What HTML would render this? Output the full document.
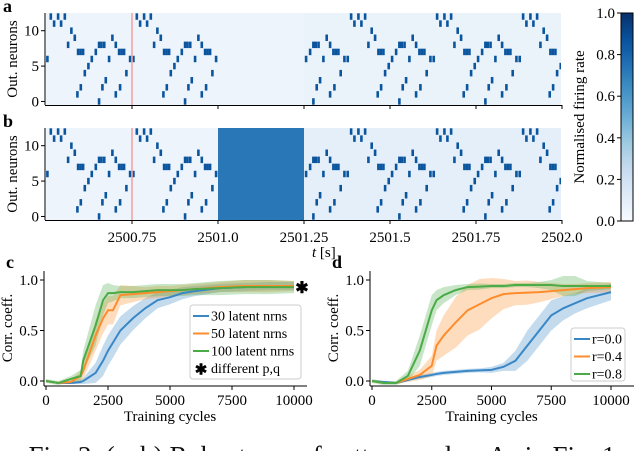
<!DOCTYPE html>
<html><head><meta charset="utf-8">
<style>
html,body{margin:0;padding:0;background:#fff;width:640px;height:451px;overflow:hidden}
svg{display:block;font-family:"Liberation Serif",serif}
</style></head>
<body>
<svg id="fig" width="640" height="451" viewBox="0 0 640 451">
<defs>
<linearGradient id="blues" x1="0" y1="1" x2="0" y2="0">
<stop offset="0" stop-color="#f7fbff"/><stop offset="0.125" stop-color="#deebf7"/><stop offset="0.25" stop-color="#c6dbef"/><stop offset="0.375" stop-color="#9ecae1"/><stop offset="0.5" stop-color="#6baed6"/><stop offset="0.625" stop-color="#4292c6"/><stop offset="0.75" stop-color="#2171b5"/><stop offset="0.875" stop-color="#08519c"/><stop offset="1" stop-color="#08306b"/>
</linearGradient>
<clipPath id="clipA"><rect x="46" y="13" width="515" height="92"/></clipPath>
<clipPath id="clipB"><rect x="46" y="128" width="515" height="92"/></clipPath>
</defs>
<g id="root"></g>
<text x="322" y="465" font-size="27" fill="#111" text-anchor="middle">Fig. 2: (a–b) Robustness of pattern replay. As in Fig. 1</text>
</svg>
<script>
// ---- raster data (one period of the replayed pattern) ----
const spikeRows  = [12,12,12,11,11,10,9,9,8,8,8,8,8,7,7,7,7,7,7,7,6,6,6,6,5,4,4,3,2,2,2,1,1,0];
const spikeTimes = [0.0137,0.0349,0.0544,0.0233,0.0436,0.0735,0.0834,0.1927,0.064,0.154,0.161,0.169,0.2026,0.093,0.1003,0.1076,0.1445,0.2122,0.2195,0.2267,0.1328,0.1831,0.2442,0.0038,0.123,0.1125,0.2334,0.1735,0.1009,0.1637,0.2151,0.091,0.2026,0.154];
const periodStartsLeft = [2500.5, 2500.75];
const periodStartsRight = [2501.123, 2501.373, 2501.623, 2501.873];
const rasterTicks = [2500.75, 2501.0, 2501.25, 2501.5, 2501.75, 2502.0];
const rasterTickLabels = ["2500.75","2501.0","2501.25","2501.5","2501.75","2502.0"];
const neuronTicks = [0,5,10];
const cbTicks = [0,0.2,0.4,0.6,0.8,1.0];

// ---- training curves ----
const cX = [0,500,1000,1400,1500,2000,2300,2500,2700,3000,3500,4000,4500,5000,5500,6000,7000,8000,9000,10000];
const c30  = [0,-0.02,-0.02,-0.01,0.0,0.08,0.2,0.3,0.38,0.5,0.62,0.72,0.8,0.83,0.87,0.89,0.92,0.93,0.94,0.94];
const c50  = [0,-0.02,-0.01,0.05,0.1,0.45,0.62,0.7,0.7,0.85,0.86,0.87,0.88,0.89,0.9,0.91,0.93,0.94,0.94,0.94];
const c100 = [0,-0.02,0.02,0.05,0.2,0.55,0.8,0.87,0.87,0.88,0.88,0.89,0.9,0.9,0.9,0.91,0.92,0.93,0.93,0.93];
const c30sd  = [0.01,0.01,0.01,0.02,0.03,0.1,0.15,0.15,0.15,0.14,0.12,0.1,0.08,0.07,0.06,0.05,0.04,0.04,0.04,0.04];
const c50sd  = [0.01,0.01,0.02,0.05,0.08,0.15,0.15,0.14,0.14,0.1,0.08,0.06,0.06,0.05,0.05,0.05,0.05,0.06,0.06,0.05];
const c100sd = [0.02,0.02,0.03,0.06,0.1,0.2,0.15,0.1,0.08,0.06,0.06,0.06,0.06,0.06,0.06,0.06,0.07,0.07,0.07,0.06];
const dX = [0,500,1000,1500,2000,2500,2700,3000,3500,4000,4500,5000,5500,6000,6500,7000,7500,8000,8500,9000,10000];
const d00 = [0,-0.01,-0.02,0.01,0.04,0.06,0.07,0.08,0.09,0.1,0.105,0.11,0.14,0.2,0.35,0.5,0.65,0.72,0.77,0.82,0.88];
const d04 = [0,-0.02,-0.02,0.02,0.06,0.15,0.35,0.45,0.58,0.7,0.76,0.82,0.86,0.87,0.875,0.88,0.89,0.9,0.91,0.92,0.93];
const d08 = [0,-0.02,-0.02,0.05,0.3,0.7,0.8,0.85,0.9,0.93,0.935,0.94,0.94,0.95,0.95,0.95,0.95,0.94,0.94,0.94,0.94];
const d00sd = [0.01,0.01,0.01,0.01,0.02,0.02,0.02,0.02,0.02,0.02,0.02,0.03,0.04,0.1,0.15,0.15,0.15,0.12,0.1,0.1,0.08];
const d04sd = [0.01,0.01,0.01,0.03,0.05,0.1,0.15,0.2,0.25,0.25,0.25,0.2,0.15,0.12,0.12,0.1,0.08,0.06,0.05,0.05,0.05];
const d08sd = [0.02,0.02,0.02,0.05,0.15,0.15,0.1,0.08,0.05,0.03,0.03,0.02,0.02,0.02,0.02,0.03,0.05,0.1,0.1,0.05,0.03];
const xTicks = [0,2500,5000,7500,10000];
const yTicks = [0,0.5,1.0];

const NS="http://www.w3.org/2000/svg";
const root=document.getElementById('root');
function mk(tag,attrs,parent,txt){const e=document.createElementNS(NS,tag);for(const k in attrs)e.setAttribute(k,attrs[k]);if(txt!==undefined)e.textContent=txt;(parent||root).appendChild(e);return e;}

const FS=15;
const tX = t => 46 + (t-2500.5)*344;
const rowY = (r,top) => top + 92 - (r+0.5)*(92/13);
function raster(top, clipId, panel, hasBlock, label){
  const g=mk('g',{'clip-path':'url(#'+clipId+')'});
  
  
  const bg=mk('rect',{x:46,y:top,width:515,height:92,fill:'#edf4fb'},g);
  
  
  const rb=mk('rect',{x:tX(2501.25),y:top,width:tX(2502)-tX(2501.25),height:92,fill:panel==='b'?'#e5eff9':'#eaf2fa'},g);
  
  
  const h=92/13;
  const draw=(starts,lo,hi)=>{
    starts.forEach(s=>{
      spikeTimes.forEach((off,i)=>{
        const t=s+off; if(t<lo||t>hi) return;
        const r=mk('rect',{x:tX(t)-1.2,y:rowY(spikeRows[i],top)-h/2+0.3,width:2.6,height:h-0.6,fill:'#0b559f'},g);
        
        
      });
    });
  };
  draw(periodStartsLeft,2500.5,2501.0);
  draw(periodStartsRight,2501.25,2502.0);
  if(hasBlock){
    const b=mk('rect',{x:tX(2501.0),y:top,width:tX(2501.25)-tX(2501.0),height:92,fill:'#2a77b8'},g);
    
    
  }
  const rl=mk('line',{x1:tX(2500.75),x2:tX(2500.75),y1:top,y2:top+92,stroke:'#f4a3a3','stroke-width':1.6});
  
  
  mk('line',{x1:45,x2:45,y1:top,y2:top+92,stroke:'#000','stroke-width':1});
  mk('line',{x1:45,x2:562,y1:top+92.5,y2:top+92.5,stroke:'#000','stroke-width':1});
  neuronTicks.forEach(v=>{
    const y=rowY(v,top);
    mk('line',{x1:41,x2:45,y1:y,y2:y,stroke:'#000'});
    const t=mk('text',{x:39,y:y+5,'font-size':FS,'text-anchor':'end'},root,String(v));
    
    
  });
  rasterTicks.forEach((v,i)=>{
    const x=tX(v);
    mk('line',{x1:x,x2:x,y1:top+92,y2:top+96,stroke:'#000'});
    if(panel==='b'){
      const t=mk('text',{x:x,y:top+114,'font-size':FS,'text-anchor':'middle'},root,rasterTickLabels[i]);
      
      
    }
  });
  const yl=mk('text',{transform:`translate(17,${top+46}) rotate(-90)`,'font-size':FS,'text-anchor':'middle'},root,'Out. neurons');
  
  
  const pl=mk('text',{x:3,y:top-1,'font-size':18,'font-weight':'bold'},root,label);
  
  
}
raster(13,'clipA','a',false,'a');
raster(128,'clipB','b',true,'b');
const tl=mk('text',{x:312,y:257,'font-size':FS},root,'');


mk('tspan',{'font-style':'italic'},tl,'t');
mk('tspan',{},tl,' [s]');

// colorbar
const cb=mk('rect',{x:621,y:13,width:12,height:208,fill:'url(#blues)',stroke:'#000','stroke-width':1});


cbTicks.forEach(v=>{
  const y=221-v*208;
  mk('line',{x1:617,x2:621,y1:y,y2:y,stroke:'#000'});
  const t=mk('text',{x:615,y:y+5,'font-size':FS,'text-anchor':'end'},root,v.toFixed(1));
  
  
});
const cbl=mk('text',{transform:'translate(584,117) rotate(-90)','font-size':FS,'text-anchor':'middle'},root,'Normalised firing rate');



// line panels
const COL={blue:'#3a87c6',orange:'#fd8d2c',green:'#4aab47'};
function linePanel(x0,x1,axR,label,panel,xs,series,legend,legBox){
  const sx=v=>x0+v/10000*(x1-x0), sy=v=>381-v*101;
  series.forEach(s=>{
    let up=xs.map((x,i)=>sx(x)+','+sy(s.y[i]+s.sd[i])).join(' ');
    let dn=xs.map((x,i)=>sx(x)+','+sy(s.y[i]-s.sd[i])).reverse().join(' ');
    const b=mk('polygon',{points:up+' '+dn,fill:s.c,'fill-opacity':0.3,stroke:'none'});
    
    
  });
  series.forEach(s=>{
    const l=mk('polyline',{points:xs.map((x,i)=>sx(x)+','+sy(s.y[i])).join(' '),fill:'none',stroke:s.c,'stroke-width':2});
    
    
  });
  mk('line',{x1:x0-2,x2:x0-2,y1:271,y2:386,stroke:'#000'});
  mk('line',{x1:x0-2,x2:axR,y1:386,y2:386,stroke:'#000'});
  xTicks.forEach(v=>{const x=sx(v);mk('line',{x1:x,x2:x,y1:386,y2:390,stroke:'#000'});
    const t=mk('text',{x:x,y:405,'font-size':FS,'text-anchor':'middle'},root,String(v));
    
    });
  yTicks.forEach(v=>{const y=sy(v);mk('line',{x1:x0-6,x2:x0-2,y1:y,y2:y,stroke:'#000'});
    const t=mk('text',{x:x0-8,y:y+5,'font-size':FS,'text-anchor':'end'},root,v.toFixed(1));
    
    });
  const xt=mk('text',{x:(x0+x1)/2,y:421,'font-size':FS,'text-anchor':'middle'},root,'Training cycles');
  
  
  const yt=mk('text',{transform:`translate(${x0-34},328) rotate(-90)`,'font-size':FS,'text-anchor':'middle'},root,'Corr. coeff.');
  
  
  const pl=mk('text',{x:x0-40,y:268,'font-size':18,'font-weight':'bold'},root,label);
  
  
  const lb=mk('rect',{x:legBox[0],y:legBox[1],width:legBox[2],height:legBox[3],rx:3,fill:'#fff','fill-opacity':0.85,stroke:'#ccc'});
  
  
  legend.forEach((e,i)=>{
    const y=legBox[1]+11+i*17.5;
    if(e.c){const l=mk('line',{x1:legBox[0]+3,x2:legBox[0]+19,y1:y,y2:y,stroke:e.c,'stroke-width':2});
      
      }
    else {const s=mk('text',{x:legBox[0]+11,y:y+6,'font-size':15,'text-anchor':'middle','font-weight':'bold'},root,'✱');
      
      }
    const t=mk('text',{x:legBox[0]+21,y:y+4.5,'font-size':14},root,e.t);
    
    
  });
}
linePanel(46,294,307,'c','c',cX,[
  {n:'30',y:c30,sd:c30sd,c:COL.blue},{n:'50',y:c50,sd:c50sd,c:COL.orange},{n:'100',y:c100,sd:c100sd,c:COL.green}],
  [{t:'30 latent nrns',c:COL.blue},{t:'50 latent nrns',c:COL.orange},{t:'100 latent nrns',c:COL.green},{t:'different p,q'}],
  [190,305,111,74]);
const star=mk('text',{x:302,y:293,'font-size':16,'text-anchor':'middle','font-weight':'bold'},root,'✱');


linePanel(372,611,634,'d','d',dX,[
  {n:'r00',y:d00,sd:d00sd,c:COL.blue},{n:'r04',y:d04,sd:d04sd,c:COL.orange},{n:'r08',y:d08,sd:d08sd,c:COL.green}],
  [{t:'r=0.0',c:COL.blue},{t:'r=0.4',c:COL.orange},{t:'r=0.8',c:COL.green}],
  [571,328,54,53]);
</script>
</body></html>
